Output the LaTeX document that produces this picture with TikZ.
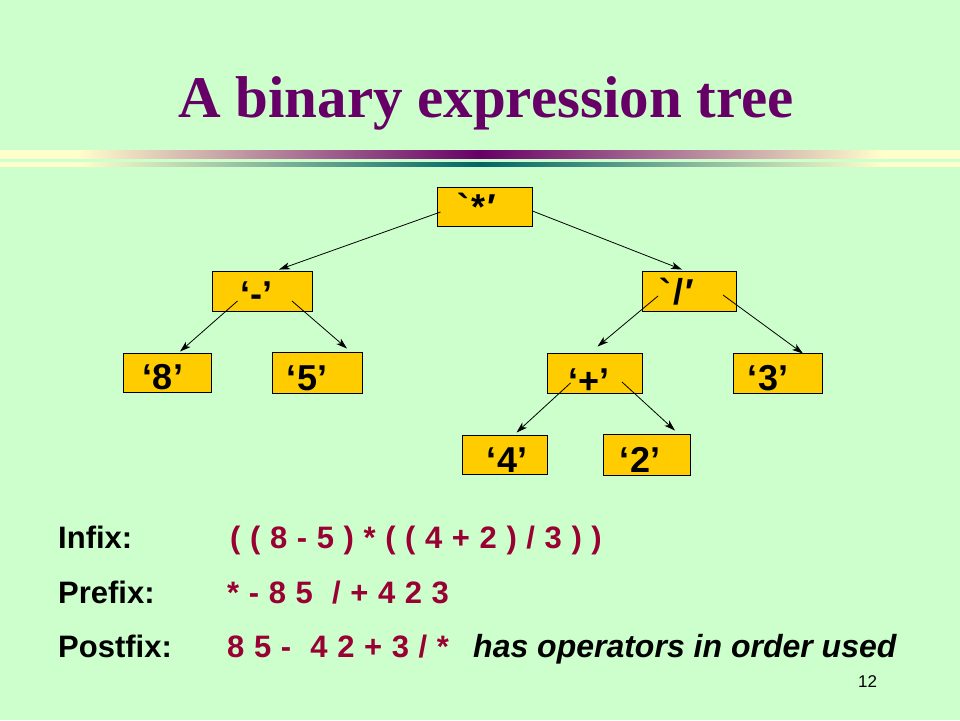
\documentclass[tikz,border=0pt]{standalone}
\usepackage{fontspec}
\setmainfont{Liberation Sans}
\newfontfamily\titlefont{Liberation Serif}
\newfontfamily\rawsans{Liberation Sans}[Ligatures=TeXOff]
\usetikzlibrary{arrows.meta,calc}
\definecolor{bgG}{HTML}{CCFFCC}
\definecolor{boxY}{HTML}{FFCC00}
\definecolor{titleP}{HTML}{660066}
\definecolor{redT}{HTML}{990033}
\definecolor{barY}{HTML}{FFFFCC}
\definecolor{barP}{HTML}{660066}
\definecolor{barT}{HTML}{006666}
\newcommand{\widesp}{\spaceskip=0.31em\relax}
\pgfdeclarehorizontalshading{barpurple}{100bp}{color(0bp)=(barY); color(29bp)=(barY); color(50bp)=(barP); color(71bp)=(barY); color(100bp)=(barY)}
\pgfdeclarehorizontalshading{barteal}{100bp}{color(0bp)=(barY); color(29bp)=(barY); color(50bp)=(barT); color(71bp)=(barY); color(100bp)=(barY)}
\tikzset{
  treebox/.style={draw=black, line width=0.9pt, fill=boxY, inner sep=0pt},
  lbl/.style={anchor=base, inner sep=0pt, font=\fontsize{36}{40}\selectfont\bfseries},
  conn/.style={draw=black, line width=0.8pt, -{Stealth[length=11pt,width=7pt,inset=3pt]}},
  rowlbl/.style={anchor=base west, inner sep=0pt, font=\fontsize{31}{36}\selectfont\bfseries},
  rowred/.style={anchor=base west, inner sep=0pt, text=redT, font=\fontsize{31}{36}\selectfont\bfseries},
}
\begin{document}
\begin{tikzpicture}[x=1pt,y=-1pt]
\useasboundingbox (0,0) rectangle (960,720);
\fill[bgG] (0,0) rectangle (960,720);
% title
\node[anchor=base, inner sep=0pt, text=titleP, font=\titlefont\fontsize{59}{66}\selectfont\bfseries] (title) at (486,117) {A binary expression tree};
% bars
\shade[shading=barpurple] (0,150) rectangle (960,158);
\shade[shading=barteal] (0,162) rectangle (960,166);
% boxes
\node[treebox, minimum width=95pt, minimum height=39pt] (root) at (484.5,206.5) {};
\node[treebox, minimum width=100pt, minimum height=40pt] (minus) at (262,291) {};
\node[treebox, minimum width=94pt, minimum height=40pt] (div) at (689,291) {};
\node[treebox, minimum width=88pt, minimum height=39pt] (eight) at (167,372.5) {};
\node[treebox, minimum width=90pt, minimum height=41pt] (five) at (317,372.5) {};
\node[treebox, minimum width=95pt, minimum height=40pt] (plus) at (594.5,373) {};
\node[treebox, minimum width=89pt, minimum height=40pt] (three) at (777.5,373) {};
\node[treebox, minimum width=85pt, minimum height=39pt] (four) at (504.5,454.5) {};
\node[treebox, minimum width=87pt, minimum height=41pt] (two) at (646.5,454.5) {};
% labels
\node[lbl] (troot) at (477,219) {\rawsans\bfseries\char"60\kern2pt*\kern2pt\char"2032};
\node[lbl] (tminus) at (256,306) {‘-’};
\node[lbl] (tdiv) at (677,304) {\rawsans\bfseries\char"60\kern2pt/\kern2pt\char"2032};
\node[lbl] (teight) at (163,389) {‘8’};
\node[lbl] (tfive) at (307,390) {‘5’};
\node[lbl] (tplus) at (589,393) {‘+’};
\node[lbl] (tthree) at (768,390) {‘3’};
\node[lbl] (tfour) at (507,472) {‘4’};
\node[lbl] (ttwo) at (640,472) {‘2’};
% connectors
\draw[conn] ($(root.west)+(4,5.5)$) -- ($(minus.north)+(17,-1)$);
\draw[conn] ($(root.east)+(0,4.5)$) -- ($(div.north)+(-7,-1)$);
\draw[conn] ($(minus.center)+(-24.5,10)$) -- ($(eight.north)+(13,-1)$);
\draw[conn] ($(minus.center)+(30,10)$) -- ($(five.north)+(30,-3)$);
\draw[conn] ($(div.center)+(-31,5)$) -- ($(plus.north)+(3,-6)$);
\draw[conn] ($(div.center)+(34,4)$) -- ($(three.north)+(25.5,1)$);
\draw[conn] ($(plus.center)+(-24,10)$) -- ($(four.north)+(12,-2)$);
\draw[conn] ($(plus.center)+(27.5,9)$) -- ($(two.north)+(28.5,-3)$);
% expressions
\node[rowlbl] (linfix) at (58,548) {Infix:};
\node[rowred] (vinfix) at (230,548) {\widesp ( ( 8 - 5 ) * ( ( 4 + 2 ) / 3 ) )};
\node[rowlbl] (lprefix) at (58,603) {Prefix:};
\node[rowred] (vprefix) at (227,603) {\widesp * - 8 5\ \ / + 4 2 3};
\node[rowlbl] (lpostfix) at (58,657) {Postfix:};
\node[rowred] (vpostfix) at (227,657) {\widesp 8 5 -\ \ 4 2 + 3 / *};
\node[anchor=base west, inner sep=0pt, font=\fontsize{32}{36}\selectfont\bfseries\itshape] (note) at (473,657) {has operators in order used};
\node[anchor=base west, inner sep=0pt, font=\fontsize{17}{20}\selectfont] (pnum) at (858,687) {12};
\end{tikzpicture}
\end{document}
